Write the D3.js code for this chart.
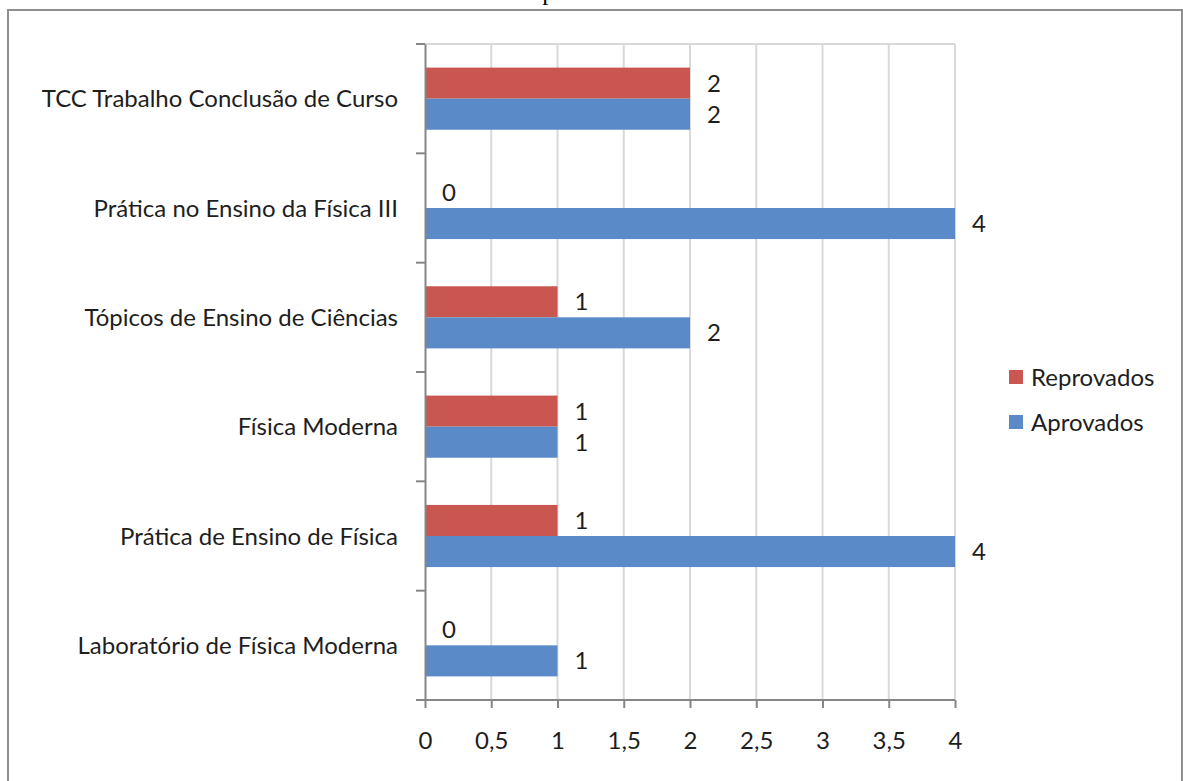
<!DOCTYPE html>
<html>
<head>
<meta charset="utf-8">
<script src="https://cdn.jsdelivr.net/npm/d3@7"></script>
<style>
  html, body { margin: 0; padding: 0; background: #fff; }
  svg { display: block; }
</style>
</head>
<body>
<svg id="chart" width="1183" height="781"></svg>
<script>
// Disciplines, listed top to bottom as drawn
const categories = [
  "TCC Trabalho Conclusão de Curso",
  "Prática no Ensino da Física III",
  "Tópicos de Ensino de Ciências",
  "Física Moderna",
  "Prática de Ensino de Física",
  "Laboratório de Física Moderna"
];
const seriesNames = ["Reprovados", "Aprovados"];
const reprovados = [2, 0, 1, 1, 1, 0];
const aprovados  = [2, 4, 2, 1, 4, 1];
const xTicks = [0, 0.5, 1, 1.5, 2, 2.5, 3, 3.5, 4];
const xTickLabels = ["0", "0,5", "1", "1,5", "2", "2,5", "3", "3,5", "4"];
const colors = { "Reprovados": "#C9574F", "Aprovados": "#5A8BC8" };

const font = "Lato, 'Open Sans', sans-serif";
const fontSize = 24;
const textColor = "#1e1e1e";
const svg = d3.select("#chart");

// Caption above the frame (runs past the top edge of the page)
svg.append("text")
  .attr("x", 10).attr("y", 0.1)
  .attr("font-family", "'Liberation Serif', 'Times New Roman', serif")
  .attr("font-size", 25)
  .attr("fill", "#000")
  .text("Gráfico 11 – Relatório de notas dos alunos do oitavo período da turma 2007.");

// Outer chart frame
svg.append("rect")
  .attr("x", 8).attr("y", 10)
  .attr("width", 1174).attr("height", 800)
  .attr("fill", "#fff")
  .attr("stroke", "#8f8f8f").attr("stroke-width", 2);

const plot = { left: 425, right: 955, top: 44, bottom: 700 };

const x = d3.scaleLinear().domain([0, 4]).range([plot.left, plot.right]);
const y = d3.scaleBand().domain(categories).range([plot.top, plot.bottom]).paddingInner(0).paddingOuter(0);
const inner = d3.scaleBand().domain(seriesNames).range([0, y.bandwidth()]).paddingInner(0).paddingOuter(0.76);

// Vertical gridlines
svg.append("g")
  .selectAll("line")
  .data(xTicks.slice(1))
  .join("line")
  .attr("x1", d => x(d)).attr("x2", d => x(d))
  .attr("y1", plot.top).attr("y2", plot.bottom)
  .attr("stroke", "#d9d9d9").attr("stroke-width", 2);

// Plot area top edge
svg.append("line")
  .attr("x1", plot.left).attr("x2", plot.right)
  .attr("y1", plot.top).attr("y2", plot.top)
  .attr("stroke", "#d9d9d9").attr("stroke-width", 2);

// Bars
const rows = categories.map((c, i) => ({ cat: c, values: [
  { name: "Reprovados", value: reprovados[i] },
  { name: "Aprovados", value: aprovados[i] }
]}));

const groups = svg.append("g").selectAll("g")
  .data(rows)
  .join("g")
  .attr("transform", d => `translate(0,${y(d.cat)})`);

groups.selectAll("rect")
  .data(d => d.values)
  .join("rect")
  .attr("x", x(0))
  .attr("y", d => inner(d.name))
  .attr("width", d => x(d.value) - x(0))
  .attr("height", inner.bandwidth())
  .attr("fill", d => colors[d.name]);

// Value labels
groups.selectAll("text")
  .data(d => d.values)
  .join("text")
  .attr("x", d => x(d.value) + 17)
  .attr("y", d => inner(d.name) + inner.bandwidth() / 2)
  .attr("dy", "0.36em")
  .attr("font-family", font)
  .attr("font-size", fontSize)
  .attr("fill", textColor)
  .text(d => d.value);

// Category axis
const yAxis = svg.append("g")
  .attr("transform", `translate(${plot.left},0)`)
  .call(d3.axisLeft(y).tickSize(0).tickPadding(27));
yAxis.select(".domain").attr("stroke", "#868686").attr("stroke-width", 2);
yAxis.selectAll("text")
  .attr("dy", "0.36em")
  .attr("font-family", font).attr("font-size", fontSize).attr("fill", textColor);

// Category separators (tick marks between bands)
const boundaries = categories.map(c => y(c)).concat([plot.bottom]);
svg.append("g").selectAll("line")
  .data(boundaries)
  .join("line")
  .attr("x1", plot.left - 9).attr("x2", plot.left)
  .attr("y1", d => d).attr("y2", d => d)
  .attr("stroke", "#868686").attr("stroke-width", 2);

// Value axis
const xAxis = svg.append("g")
  .attr("transform", `translate(0,${plot.bottom})`)
  .call(d3.axisBottom(x).tickValues(xTicks).tickFormat((d, i) => xTickLabels[i]).tickSize(8).tickPadding(24));
xAxis.select(".domain").attr("stroke", "#868686").attr("stroke-width", 2).attr("d", `M${plot.left},0H${plot.right}`);
xAxis.selectAll(".tick line").attr("stroke", "#868686").attr("stroke-width", 2);
xAxis.selectAll("text")
  .attr("font-family", font).attr("font-size", fontSize).attr("fill", textColor);

// Legend
const legend = svg.append("g").attr("transform", "translate(1009,377)");
const legendItems = legend.selectAll("g")
  .data(seriesNames)
  .join("g")
  .attr("transform", (d, i) => `translate(0,${i * 45})`);
legendItems.append("rect")
  .attr("x", 0).attr("y", -7)
  .attr("width", 14).attr("height", 14)
  .attr("fill", d => colors[d]);
legendItems.append("text")
  .attr("x", 22).attr("y", 0).attr("dy", "0.36em")
  .attr("font-family", font).attr("font-size", fontSize).attr("fill", textColor)
  .text(d => d);
</script>
</body>
</html>
